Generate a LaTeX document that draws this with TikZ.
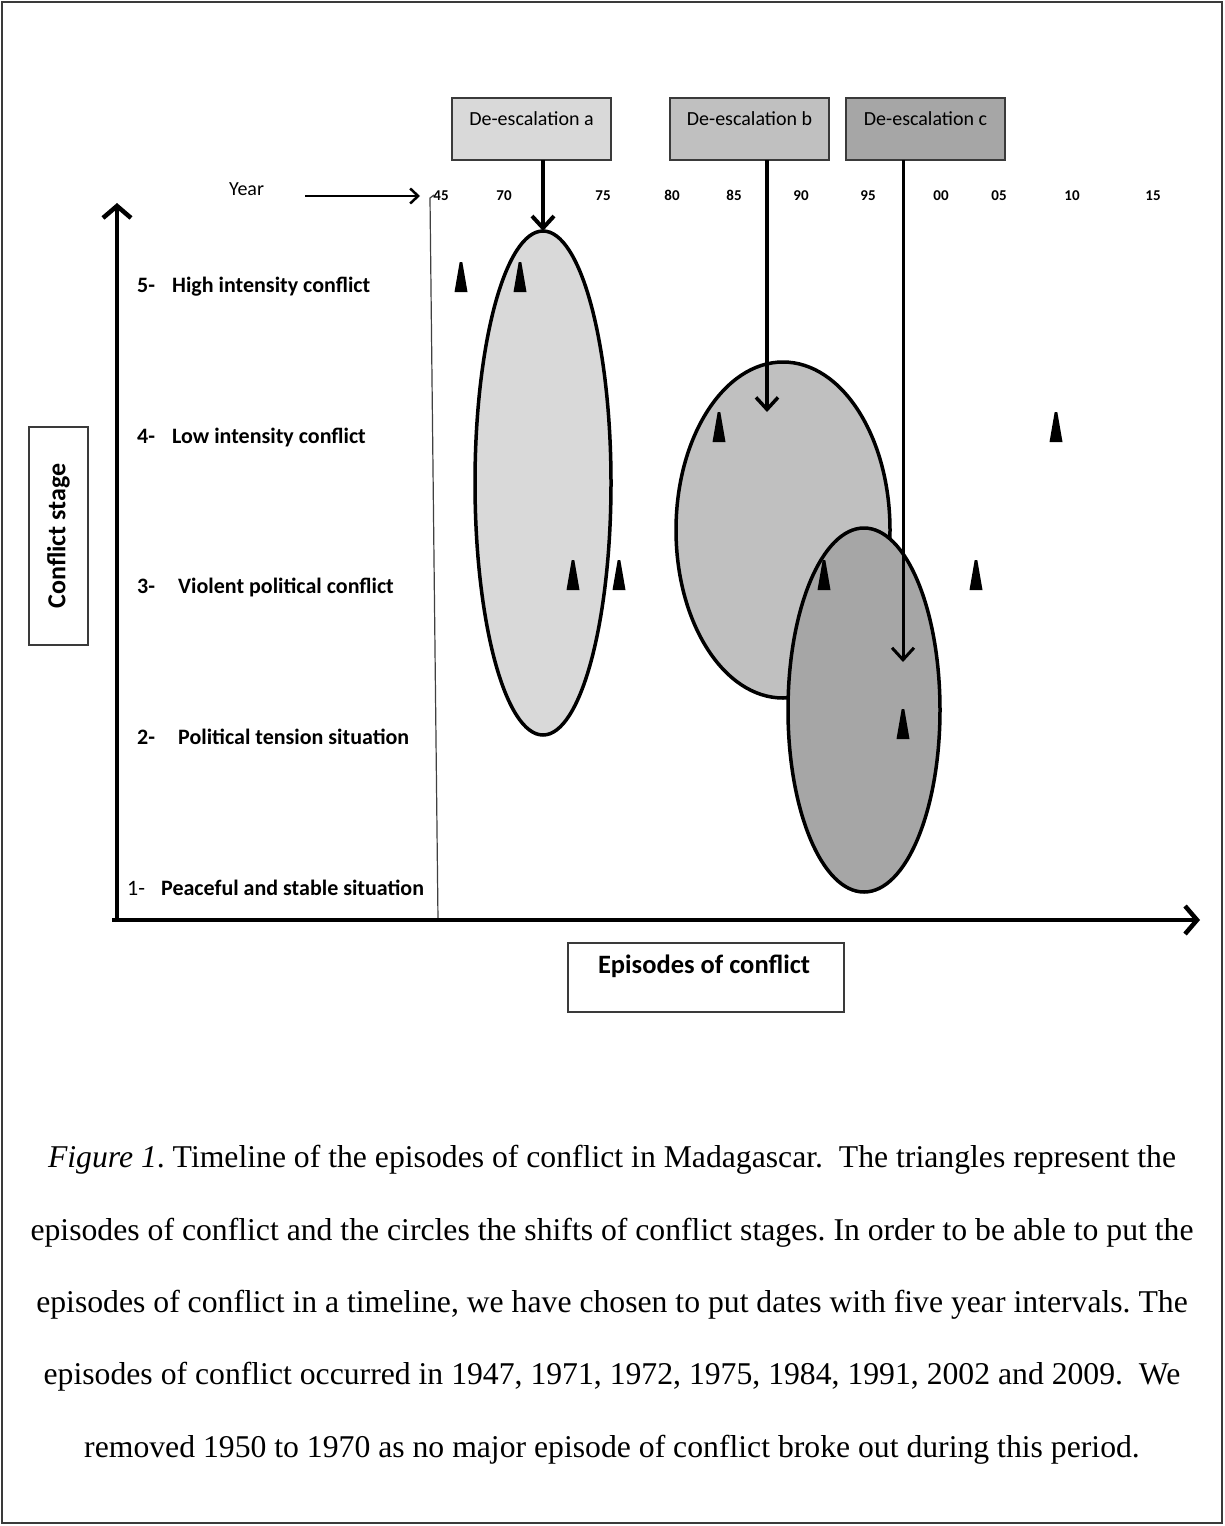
\documentclass[tikz,border=0pt]{standalone}
\usepackage{fontspec}
\setmainfont{Liberation Serif}
\newfontfamily\calfont{Carlito}
\usetikzlibrary{arrows.meta,shapes.geometric,calc}
\definecolor{fa}{HTML}{D9D9D9}
\definecolor{fb}{HTML}{C0C0C0}
\definecolor{fc}{HTML}{A6A6A6}
\definecolor{boxline}{HTML}{3A3A3A}
\begin{document}
\frenchspacing
\begin{tikzpicture}[x=1pt,y=-1pt,
  deescbox/.style={draw=boxline, line width=1.5pt, minimum width=159pt, minimum height=62pt, anchor=north west, inner sep=0pt, outer sep=0pt},
  boxtext/.style={font=\calfont\fontsize{20}{24}\selectfont, anchor=base, inner sep=0pt},
  stagenum/.style={font=\calfont\bfseries\fontsize{22}{26}\selectfont, anchor=base west, inner sep=0pt},
  stagetext/.style={font=\calfont\bfseries\fontsize{22}{26}\selectfont, anchor=base west, inner sep=0pt},
  tick/.style={font=\calfont\bfseries\fontsize{15}{18}\selectfont, anchor=base, inner sep=0pt},
  episode/.style={ellipse, draw=black, line width=3.5pt, inner sep=0pt, outer sep=0pt},
  axis/.style={line width=4.5pt, -{Straight Barb[length=12pt,width=28pt]}},
  deesc/.style={line width=3.5pt, -{Straight Barb[length=12pt,width=22pt]}},
  caption/.style={font=\fontsize{31.7}{38}\selectfont, anchor=base, inner sep=0pt},
  tri/.style={fill=black}
]
\useasboundingbox (0,0) rectangle (1225,1526);
\fill[white] (0,0) rectangle (1225,1526);
\draw[line width=1.5pt, boxline] (2,2) rectangle (1222,1523);

% ellipses
\node[episode, fill=fa, minimum width=136pt, minimum height=504pt] (ea) at (543,483) {};
\node[episode, fill=fb, minimum width=214pt, minimum height=336pt] (eb) at (783,530) {};
\node[episode, fill=fc, minimum width=152pt, minimum height=364pt] (ec) at (864,710) {};

% triangles (episodes of conflict)
\foreach \tx/\ty in {461/277, 520/277, 573/575, 619/575, 719/427, 824/575, 903/724, 976/575, 1056/427}{
  \fill[tri] (\tx-6.5,\ty+15) -- (\tx+6.5,\ty+15) -- (\tx+1.3,\ty-15) -- (\tx-1.3,\ty-15) -- cycle;
}

% de-escalation boxes
\node[deescbox, fill=fa] (da) at (452,98) {};
\node[deescbox, fill=fb] (db) at (670,98) {};
\node[deescbox, fill=fc] (dc) at (846,98) {};
\node[boxtext] (dat) at ($(da.north)+(0,27)$) {De-escalation a};
\node[boxtext] (dbt) at ($(db.north)+(0,27)$) {De-escalation b};
\node[boxtext] (dct) at ($(dc.north)+(0,27)$) {De-escalation c};

\coordinate (bt) at (767,412);
\coordinate (ct) at (903,662);
\draw[deesc, line width=4pt] (da.south -| ea.north) -- (ea.north);
\draw[deesc] (db.south -| bt) -- (bt);
\draw[deesc, line width=3pt] (dc.south -| ct) -- (ct);

% year line
\node[font=\calfont\fontsize{20}{24}\selectfont, anchor=base west, inner sep=0pt] (year) at (229,195) {Year};
\coordinate (ya) at (305,196);
\coordinate (yb) at (420,196);
\draw[line width=2.5pt, -{Straight Barb[length=8pt,width=15pt]}] (ya) -- (yb);
\foreach \lab/\lx in {45/441, 70/504, 75/603, 80/672, 85/734, 90/801, 95/868, 00/941, 05/999, 10/1072, 15/1153}{
  \node[tick] (t\lab) at (\lx,200) {\lab};
}

% thin separator line
\coordinate (tl0) at (434,195);
\coordinate (tl1) at (430,198);
\coordinate (tl2) at (438,920);
\draw[line width=1.2pt, black!75] (tl0) -- (tl1) -- (tl2);

% axes
\coordinate (xs) at (112,920);
\coordinate (xe) at (1200,920);
\coordinate (ys) at (117,922);
\coordinate (ye) at (117,203);
\draw[axis] (xs) -- (xe);
\draw[axis] (ys) -- (ye);

% stage labels
\node[stagenum] (n5) at (137,292) {5-};
\node[stagetext] (l5) at (172,292) {High intensity conflict};
\node[stagenum] (n4) at (137,443) {4-};
\node[stagetext] (l4) at (172,443) {Low intensity conflict};
\node[stagenum] (n3) at (137,593) {3-};
\node[stagetext] (l3) at (178,593) {Violent political conflict};
\node[stagenum] (n2) at (137,744) {2-};
\node[stagetext] (l2) at (178,744) {Political tension situation};
\node[stagenum, font=\calfont\fontsize{22}{26}\selectfont] (n1) at (127,895) {1-};
\node[stagetext] (l1) at (161,895) {Peaceful and stable situation};

% axis titles
\node[draw=boxline, line width=1.5pt, rotate=90, minimum width=218pt, minimum height=59pt, inner sep=0pt,
      font=\calfont\bfseries\fontsize{26}{30}\selectfont] (cs) at (58.5,536) {Conflict stage};
\node[draw=boxline, line width=1.5pt, minimum width=276pt, minimum height=69pt, inner sep=0pt] (ep) at (706,977.5) {};
\node[font=\calfont\bfseries\fontsize{26.5}{30}\selectfont, anchor=base, inner sep=0pt] (ept) at (704,973) {Episodes of conflict};

% caption
\node[caption] (cap1) at (612,1167) {\textit{Figure 1}. Timeline of the episodes of conflict in Madagascar.~ The triangles represent the};
\node[caption] (cap2) at (612,1240) {episodes of conflict and the circles the shifts of conflict stages. In order to be able to put the};
\node[caption] (cap3) at (612,1312) {episodes of conflict in a timeline, we have chosen to put dates with five year intervals. The};
\node[caption] (cap4) at (612,1384) {episodes of conflict occurred in 1947, 1971, 1972, 1975, 1984, 1991, 2002 and 2009.~ We};
\node[caption] (cap5) at (612,1457) {removed 1950 to 1970 as no major episode of conflict broke out during this period.};
\end{tikzpicture}
\end{document}
